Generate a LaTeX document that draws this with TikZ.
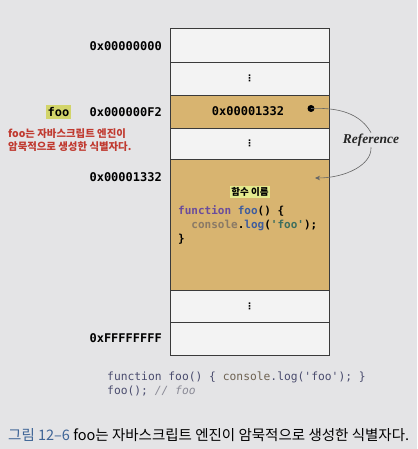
\documentclass[tikz,border=0pt]{standalone}
\usepackage{fontspec}
\setmainfont{Liberation Serif}
\setmonofont{DejaVu Sans Mono}
\newfontfamily\kr{Noto Sans CJK KR}
\newfontfamily\dvs{DejaVu Sans}
\usetikzlibrary{arrows.meta}
\definecolor{bgc}{HTML}{E4E4E6}
\definecolor{cellw}{HTML}{F3F3F3}
\definecolor{tan}{HTML}{D8B470}
\definecolor{edge}{HTML}{3A3A3A}
\definecolor{hlfoo}{HTML}{D2D46A}
\definecolor{hlname}{HTML}{E4EA8E}
\definecolor{redt}{HTML}{C0392F}
\definecolor{kwc}{HTML}{6A4C9C}
\definecolor{fnc}{HTML}{3E5C9E}
\definecolor{objc}{HTML}{8A7A66}
\definecolor{strc}{HTML}{3C6E5E}
\definecolor{codec}{HTML}{4A4C6E}
\definecolor{capb}{HTML}{3E6496}
\definecolor{cmt}{HTML}{8A8A96}
\tikzset{
  cell/.style={draw=edge, line width=0.9pt, fill=cellw, minimum width=159pt, inner sep=0pt, outer sep=0pt},
  tancell/.style={cell, fill=tan},
  addr/.style={anchor=east, font=\ttfamily\bfseries\fontsize{12}{14}\selectfont, text=black, inner sep=0pt},
  vdot/.style={font=\dvs\bfseries\fontsize{9}{9}\selectfont, inner sep=0pt},
  code/.style={anchor=west, font=\ttfamily\fontsize{11}{13}\selectfont, inner sep=0pt},
  reflink/.style={draw=gray!80!black, line width=0.6pt},
}
\begin{document}
\begin{tikzpicture}[x=1pt,y=-1pt]
\fill[bgc] (0,0) rectangle (417,449);
\useasboundingbox (0,0) rectangle (417,449);
% memory cells
\node[cell, minimum height=34pt] (c1) at (249.5,45) {};
\node[cell, minimum height=33pt] (c2) at (249.5,78.5) {};
\node[tancell, minimum height=33pt] (c3) at (249.5,111.5) {};
\node[cell, minimum height=31pt] (c4) at (249.5,143.5) {};
\node[tancell, minimum height=131pt] (c5) at (249.5,224.5) {};
\node[cell, minimum height=32pt] (c6) at (249.5,306) {};
\node[cell, minimum height=33pt] (c7) at (249.5,338.5) {};
% dots
\node[vdot] (d2) at (c2) {⋮};
\node[vdot] (d4) at (c4) {⋮};
\node[vdot] (d6) at (c6) {⋮};
% addresses
\node[addr] (a1) at (162,46) {0x00000000};
\node[addr] (a3) at (162,112) {0x000000F2};
\node[addr] (a5) at (162,177) {0x00001332};
\node[addr] (a7) at (162,338) {0xFFFFFFFF};
\node[fill=hlfoo, font=\ttfamily\bfseries\fontsize{12}{14}\selectfont, inner xsep=2pt, inner ysep=2.5pt] (foo) at (58.5,112) {foo};
\node[anchor=west, align=left, text=redt, font=\kr\bfseries\fontsize{10.4}{13}\selectfont, inner sep=0pt] (note) at (8,140.5) {foo는 자바스크립트 엔진이\\암묵적으로 생성한 식별자다.};
% value in c3
\node[font=\ttfamily\bfseries\fontsize{12}{14}\selectfont, inner sep=0pt] (v3) at (248,111) {0x00001332};
\node[circle, fill=black, minimum size=7pt, inner sep=0pt] (dot) at (311,108.5) {};
% function body
\node[fill=hlname, font=\kr\bfseries\fontsize{9.5}{11}\selectfont, inner xsep=1.5pt, inner ysep=1.5pt] (fname) at (250,192) {함수 이름};
\node[code] (l1) at (178,211) {\bfseries\textcolor{kwc}{function} \textcolor{fnc}{foo}() \{};
\node[code] (l2) at (178,225.5) {\bfseries\ \ \textcolor{objc}{console}.\textcolor{fnc}{log}(\textcolor{strc}{'foo'});};
\node[code] (l3) at (178,239.5) {\bfseries\}};
% reference
\node[font=\bfseries\itshape\fontsize{13.5}{15}\selectfont, text=black!85, inner sep=1pt] (ref) at (371,140) {Reference};
\coordinate (tgt) at (315,178);
\draw[reflink] (dot.center) .. controls (345,107) and (362,117) .. (ref.north);
\draw[reflink, -{Stealth[length=5pt,width=4.5pt]}] (ref.south) .. controls (372,165) and (345,178) .. (tgt);
% code below
\node[code, text=codec, font=\ttfamily\fontsize{11.3}{13}\selectfont] (b1) at (107,377) {function foo() \{ \textcolor{objc!80!black}{console}.log('foo'); \}};
\node[code, text=codec, font=\ttfamily\fontsize{11.3}{13}\selectfont] (b2) at (107,391) {foo(); \textcolor{cmt}{\itshape // foo}};
% caption
\node[anchor=west, font=\kr\fontsize{14.5}{16}\selectfont, inner sep=0pt] (cap) at (8,435) {\textcolor{capb}{그림 12–6} foo는 자바스크립트 엔진이 암묵적으로 생성한 식별자다.};
\end{tikzpicture}
\end{document}
